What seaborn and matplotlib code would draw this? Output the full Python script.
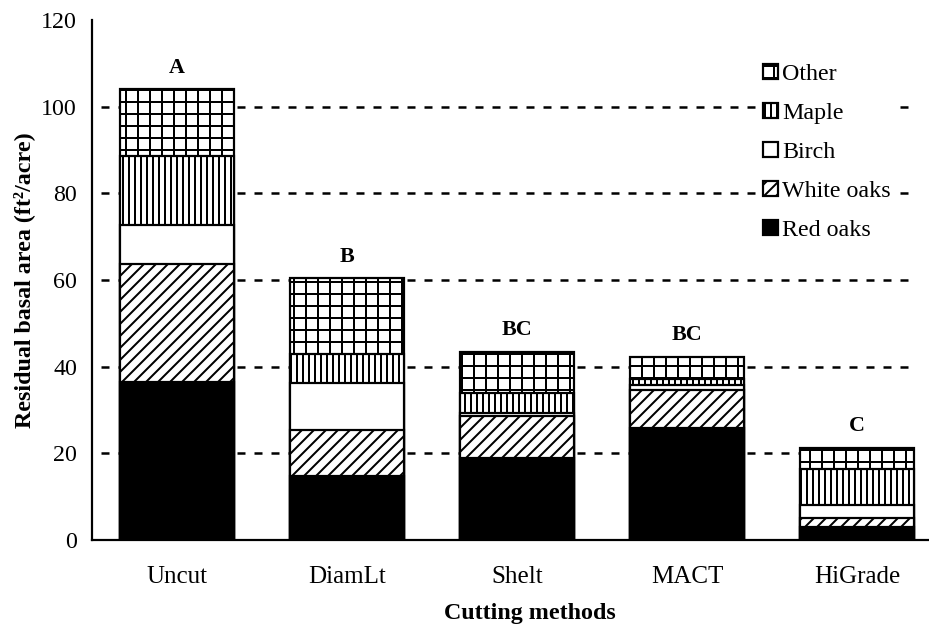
import matplotlib
matplotlib.use("Agg")
import matplotlib.pyplot as plt
from matplotlib.patches import Patch
import seaborn as sns
import numpy as np
import pandas as pd

# ---- data ----
methods = ["Uncut", "DiamLt", "Shelt", "MACT", "HiGrade"]
red_oaks = [36.4, 14.8, 18.9, 25.8, 2.9]
white_oaks = [27.4, 10.6, 9.7, 8.8, 2.1]
birch = [8.9, 10.9, 0.6, 1.2, 3.1]
maple = [15.9, 6.6, 4.7, 1.3, 8.2]
other = [15.4, 17.5, 9.6, 5.1, 4.9]
letters = ["A", "B", "BC", "BC", "C"]
species = ["Red oaks", "White oaks", "Birch", "Maple", "Other"]
yticks = [0, 20, 40, 60, 80, 100, 120]

sns.set_style("white")
plt.rcParams["font.family"] = ["Liberation Serif", "DejaVu Serif"]
plt.rcParams["hatch.linewidth"] = 2.0
plt.rcParams["lines.scale_dashes"] = False
for k in ["text.color", "axes.labelcolor", "xtick.color", "ytick.color"]:
    plt.rcParams[k] = "black"

FS = 25
DPI = 72
fig = plt.figure(figsize=(929 / DPI, 628 / DPI), dpi=DPI)
ax = fig.add_axes([92 / 929, (628 - 540) / 628, 850 / 929, 520 / 628])

layers = [red_oaks, white_oaks, birch, maple, other]
styles = {
    "Red oaks": dict(color="black", hatch=None),
    "White oaks": dict(color="white", hatch="//"),
    "Birch": dict(color="white", hatch=None),
    "Maple": dict(color="white", hatch="||"),
    "Other": dict(color="white", hatch="+"),
}
cum = np.cumsum(np.array(layers), axis=0)

# grid lines (behind bars)
for yv in yticks[1:-1]:
    ax.axhline(yv, xmin=0.01, xmax=0.968, color="black", lw=2.5,
               linestyle=(0, (8, 9)), zorder=0)

# draw stacked bars: tallest cumulative first, then overlay lower layers
for i in range(len(species) - 1, -1, -1):
    sp = species[i]
    df = pd.DataFrame({"method": methods, "value": cum[i]})
    st = styles[sp]
    n_before = len(ax.patches)
    sns.barplot(data=df, x="method", y="value", order=methods, color=st["color"],
                width=0.67, edgecolor="black", linewidth=2.2, ax=ax, zorder=2 + (4 - i) * 0.01,
                saturation=1, errorbar=None)
    for p in ax.patches[n_before:]:
        p.set_facecolor(st["color"])
        p.set_edgecolor("black")
        if st["hatch"]:
            p.set_hatch(st["hatch"])

totals = cum[-1]
for xi, (t, lab) in enumerate(zip(totals, letters)):
    ax.text(xi, t + 5.0, lab, ha="center", va="center", fontsize=FS - 3, fontweight="bold")

ax.set_xlim(-0.5, 4.5)
ax.set_ylim(0, 120)
ax.set_yticks(yticks)
ax.set_yticklabels([str(v) for v in yticks], fontsize=FS - 1)
ax.set_xticks(range(len(methods)))
ax.set_xticklabels(methods, fontsize=FS)
ax.set_xticks(np.arange(0.5, 4.5, 1), minor=True)
ax.tick_params(axis="x", which="major", length=0, pad=26)
ax.tick_params(axis="x", which="minor", length=8, width=2, direction="out", color="black")
ax.tick_params(axis="y", which="major", length=12, width=2, direction="inout", color="black", pad=9)

for s in ["top", "right"]:
    ax.spines[s].set_visible(False)
for s in ["left", "bottom"]:
    ax.spines[s].set_color("black")
    ax.spines[s].set_linewidth(2.2)

ax.set_xlabel("Cutting methods", fontsize=FS - 1, fontweight="bold")
ax.xaxis.set_label_coords((530 - 92) / 850, -(603 - 540) / 520)
ax.set_ylabel("Residual basal area (ft²/acre)", fontsize=FS - 1, fontweight="bold", labelpad=6)

handles = [Patch(facecolor=styles[sp]["color"], edgecolor="black", hatch=styles[sp]["hatch"],
                 linewidth=2.2, label=sp) for sp in species[::-1]]
leg = ax.legend(handles=handles, loc="upper left", bbox_to_anchor=(756 / 929, 1 - 57 / 628),
                bbox_transform=fig.transFigure, frameon=True, fontsize=FS - 1,
                handlelength=0.6, handleheight=0.6, handletextpad=0.2, labelspacing=0.74,
                borderpad=0.3, borderaxespad=0, fancybox=False)
leg.get_frame().set_facecolor("white")
leg.get_frame().set_edgecolor("none")
leg.get_frame().set_alpha(1)
leg.set_zorder(5)

fig.savefig("out.png", dpi=DPI)
